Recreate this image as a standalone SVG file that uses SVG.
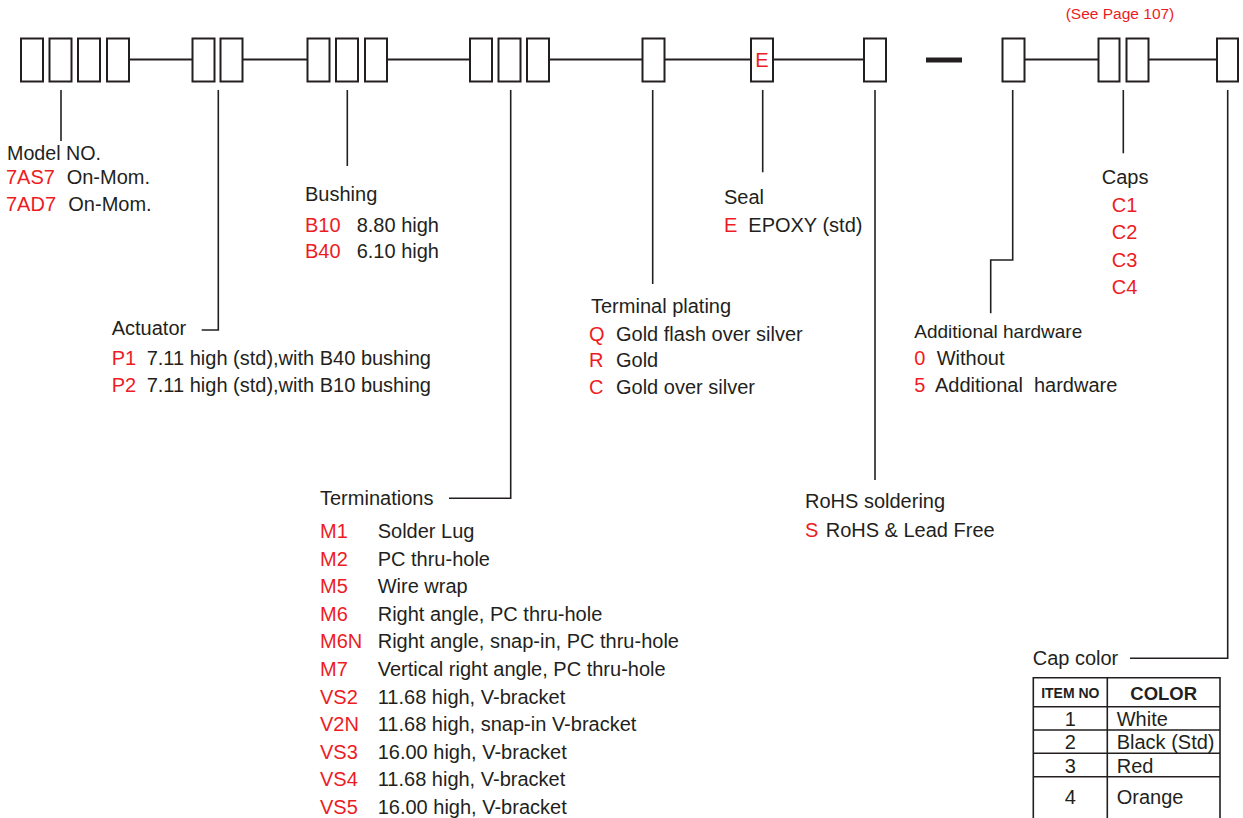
<svg xmlns="http://www.w3.org/2000/svg" width="1243" height="818" viewBox="0 0 1243 818">
<style>
text{font-family:"Liberation Sans",Arial,Helvetica,sans-serif;font-size:20px;fill:#231f20}
.r{fill:#ed1c24}
.box{fill:#fff;stroke:#231f20;stroke-width:2}
.ln{fill:none;stroke:#231f20;stroke-width:2}
.cn{fill:none;stroke:#231f20;stroke-width:1.6}
.tb{fill:none;stroke:#231f20;stroke-width:1.6}
.b{font-weight:bold}
</style>
<rect width="1243" height="818" fill="#fff"/>
<g id="connectors">
<path class="ln" d="M129 59.5H192.5M242.5 59.5H307.5M387 59.5H470M549 59.5H642.5M664.5 59.5H751M773 59.5H864M1024 59.5H1098.5M1148.5 59.5H1217"/>
<path d="M926 60H962" stroke="#231f20" stroke-width="5"/>
<path class="cn" d="M61 90V141"/>
<path class="cn" d="M218.3 90V330H201.7"/>
<path class="cn" d="M347.3 90V166"/>
<path class="cn" d="M510.7 90V498.3H449"/>
<path class="cn" d="M652.7 90V284"/>
<path class="cn" d="M762.7 90V172.3"/>
<path class="cn" d="M875 90V480"/>
<path class="cn" d="M1012.7 90V260H990.7V313.3"/>
<path class="cn" d="M1123.3 90V153.3"/>
<path class="cn" d="M1227.7 90V658.3H1130"/>
</g>
<g id="code-boxes">
<rect class="box" x="21" y="38.5" width="22" height="43"/>
<rect class="box" x="49.5" y="38.5" width="22" height="43"/>
<rect class="box" x="78" y="38.5" width="22" height="43"/>
<rect class="box" x="107" y="38.5" width="22" height="43"/>
<rect class="box" x="192.5" y="38.5" width="22" height="43"/>
<rect class="box" x="220.5" y="38.5" width="22" height="43"/>
<rect class="box" x="307.5" y="38.5" width="22" height="43"/>
<rect class="box" x="336" y="38.5" width="22" height="43"/>
<rect class="box" x="365" y="38.5" width="22" height="43"/>
<rect class="box" x="470" y="38.5" width="22" height="43"/>
<rect class="box" x="498.5" y="38.5" width="22" height="43"/>
<rect class="box" x="527" y="38.5" width="22" height="43"/>
<rect class="box" x="642.5" y="38.5" width="22" height="43"/>
<rect class="box" x="751" y="38.5" width="22" height="43"/>
<text class="r" x="762" y="67" text-anchor="middle">E</text>
<rect class="box" x="864" y="38.5" width="22" height="43"/>
<rect class="box" x="1002.5" y="38.5" width="22" height="43"/>
<rect class="box" x="1098.5" y="38.5" width="21" height="43"/>
<rect class="box" x="1126.5" y="38.5" width="22" height="43"/>
<rect class="box" x="1217" y="38.5" width="21" height="43"/>
<text class="r" x="1120" y="19" text-anchor="middle" style="font-size:15.5px">(See Page 107)</text>
</g>
<g id="model">
<text x="7" y="159.5" style="font-size:19.7px">Model NO.</text>
<text class="r" x="6" y="184">7AS7</text><text x="66.7" y="184">On-Mom.</text>
<text class="r" x="6" y="211">7AD7</text><text x="68.3" y="211">On-Mom.</text>
</g>
<g id="actuator">
<text x="111.7" y="335">Actuator</text>
<text class="r" x="111.7" y="365">P1</text><text x="146.7" y="365">7.11 high (std),with B40 bushing</text>
<text class="r" x="111.7" y="391.5">P2</text><text x="146.7" y="391.5">7.11 high (std),with B10 bushing</text>
</g>
<g id="bushing">
<text x="305" y="200.7">Bushing</text>
<text class="r" x="305" y="231.7">B10</text><text x="356.7" y="231.7">8.80 high</text>
<text class="r" x="305" y="258.3">B40</text><text x="356.7" y="258.3">6.10 high</text>
</g>
<g id="terminations">
<text x="320" y="505">Terminations</text>
<text class="r" x="320" y="538.3">M1</text><text x="377.7" y="538.3">Solder Lug</text>
<text class="r" x="320" y="565.8">M2</text><text x="377.7" y="565.8">PC thru-hole</text>
<text class="r" x="320" y="593.3">M5</text><text x="377.7" y="593.3">Wire wrap</text>
<text class="r" x="320" y="620.9">M6</text><text x="377.7" y="620.9">Right angle, PC thru-hole</text>
<text class="r" x="320" y="648.4">M6N</text><text x="377.7" y="648.4">Right angle, snap-in, PC thru-hole</text>
<text class="r" x="320" y="675.9">M7</text><text x="377.7" y="675.9">Vertical right angle, PC thru-hole</text>
<text class="r" x="320" y="703.5">VS2</text><text x="377.7" y="703.5">11.68 high, V-bracket</text>
<text class="r" x="320" y="731">V2N</text><text x="377.7" y="731">11.68 high, snap-in V-bracket</text>
<text class="r" x="320" y="758.6">VS3</text><text x="377.7" y="758.6">16.00 high, V-bracket</text>
<text class="r" x="320" y="786.1">VS4</text><text x="377.7" y="786.1">11.68 high, V-bracket</text>
<text class="r" x="320" y="813.7">VS5</text><text x="377.7" y="813.7">16.00 high, V-bracket</text>
</g>
<g id="terminal-plating">
<text x="591" y="313.3">Terminal plating</text>
<text class="r" x="589" y="340.6">Q</text><text x="616" y="340.6">Gold flash over silver</text>
<text class="r" x="589" y="367.3">R</text><text x="616" y="367.3">Gold</text>
<text class="r" x="589" y="394">C</text><text x="616" y="394">Gold over silver</text>
</g>
<g id="seal">
<text x="724" y="204">Seal</text>
<text class="r" x="724" y="231.7">E</text><text x="748.3" y="231.7">EPOXY (std)</text>
</g>
<g id="rohs">
<text x="805" y="508.3">RoHS soldering</text>
<text class="r" x="805" y="537.3">S</text><text x="825.7" y="537.3">RoHS &amp; Lead Free</text>
</g>
<g id="additional-hardware">
<text x="914.3" y="338.3" style="font-size:19px">Additional hardware</text>
<text class="r" x="914.3" y="365">0</text><text x="936.7" y="365">Without</text>
<text class="r" x="914.3" y="391.7">5</text><text x="935" y="391.7" xml:space="preserve">Additional  hardware</text>
</g>
<g id="caps">
<text x="1101.7" y="184">Caps</text>
<text class="r" x="1111.7" y="211.7">C1</text>
<text class="r" x="1111.7" y="238.5">C2</text>
<text class="r" x="1111.7" y="266.5">C3</text>
<text class="r" x="1111.7" y="294.3">C4</text>
</g>
<g id="cap-color">
<text x="1032.7" y="665">Cap color</text>
<path class="tb" d="M1033.3 830V677.7H1220V830M1107.3 677.7V830M1033.3 706.7H1220M1033.3 730H1220M1033.3 753.3H1220M1033.3 776.7H1220"/>
<text class="b" x="1070.3" y="698" text-anchor="middle" style="font-size:14px">ITEM NO</text>
<text class="b" x="1163.7" y="700" text-anchor="middle" style="font-size:18.5px">COLOR</text>
<text x="1070.3" y="726" text-anchor="middle">1</text><text x="1116.7" y="726">White</text>
<text x="1070.3" y="749.3" text-anchor="middle">2</text><text x="1116.7" y="749.3">Black (Std)</text>
<text x="1070.3" y="772.6" text-anchor="middle">3</text><text x="1116.7" y="772.6">Red</text>
<text x="1070.3" y="804" text-anchor="middle">4</text><text x="1116.7" y="804">Orange</text>
</g>
</svg>
